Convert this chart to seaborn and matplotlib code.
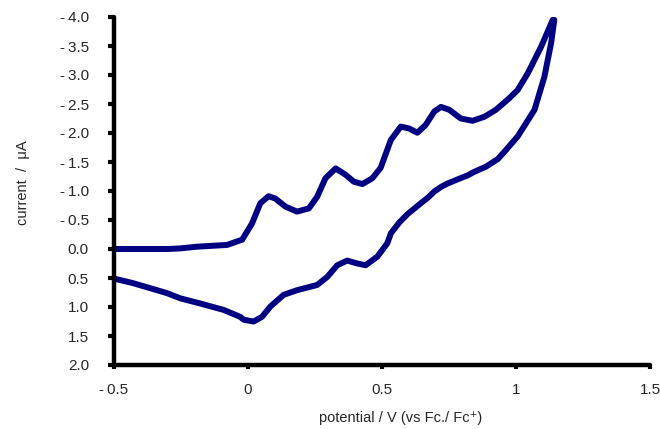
import matplotlib
matplotlib.use("Agg")
import matplotlib.pyplot as plt
import numpy as np
import pandas as pd
import seaborn as sns

# forward scan (upper branch), potential in V, current in uA
fwd_v = [-0.50, -0.30, -0.253, -0.19, -0.078, -0.066, -0.022, 0.015, 0.046, 0.077,
         0.102, 0.14, 0.183, 0.227, 0.258, 0.289, 0.327, 0.364, 0.395, 0.427,
         0.464, 0.495, 0.533, 0.57, 0.60, 0.632, 0.663, 0.695, 0.72, 0.751,
         0.794, 0.838, 0.882, 0.925, 0.975, 1.006, 1.044, 1.094, 1.137]
fwd_i = [0.00, 0.00, -0.01, -0.04, -0.07, -0.09, -0.16, -0.44, -0.79, -0.91,
         -0.87, -0.73, -0.645, -0.70, -0.90, -1.22, -1.39, -1.28, -1.16, -1.12,
         -1.22, -1.40, -1.88, -2.11, -2.08, -2.005, -2.14, -2.37, -2.45, -2.40,
         -2.25, -2.21, -2.28, -2.40, -2.60, -2.74, -3.03, -3.49, -3.95]

# reverse scan (lower branch)
rev_v = [1.143, 1.131, 1.106, 1.069, 1.035, 1.006, 0.965, 0.932, 0.888, 0.844,
         0.82, 0.782, 0.745, 0.72, 0.695, 0.67, 0.645, 0.595, 0.565, 0.533,
         0.52, 0.483, 0.439, 0.408, 0.37, 0.333, 0.296, 0.258, 0.183, 0.133,
         0.084, 0.052, 0.021, -0.016, -0.029, -0.091, -0.178, -0.253, -0.303,
         -0.428, -0.50]
rev_i = [-3.95, -3.55, -2.97, -2.40, -2.15, -1.94, -1.72, -1.55, -1.42, -1.33,
         -1.27, -1.20, -1.13, -1.07, -0.99, -0.88, -0.79, -0.60, -0.46, -0.27,
         -0.10, 0.13, 0.28, 0.25, 0.20, 0.28, 0.48, 0.62, 0.71, 0.79,
         0.99, 1.17, 1.25, 1.22, 1.17, 1.05, 0.94, 0.85, 0.76,
         0.59, 0.51]

x_ticks = [-0.5, 0, 0.5, 1, 1.5]
x_labels = ["-\u20090.5", "0", "0.5", "1", "1.5"]
y_ticks = np.arange(-4.0, 2.01, 0.5)

df = pd.DataFrame({"potential": fwd_v + rev_v, "current": fwd_i + rev_i})

sns.set_style("white")
plt.rcParams["font.family"] = ["Liberation Sans", "DejaVu Sans"]

fig = plt.figure(figsize=(6.6, 4.29), dpi=100)
ax = fig.add_axes([114 / 660, 1 - 365 / 429, 536 / 660, 348 / 429])

sns.lineplot(data=df, x="potential", y="current", sort=False, estimator=None,
             color="#000080", linewidth=4.3, ax=ax)
for ln in ax.get_lines():
    ln.set_solid_capstyle("round")
    ln.set_solid_joinstyle("round")

ax.set_xlim(-0.5, 1.5)
ax.set_ylim(2.0, -4.0)
ax.set_xticks(x_ticks)
ax.set_xticklabels(x_labels)
ax.set_yticks(y_ticks)
ax.set_yticklabels([("-\u2009" if v < -1e-9 else "") + f"{abs(v):.1f}" for v in y_ticks])

for side in ["top", "right"]:
    ax.spines[side].set_visible(False)
for side in ["left", "bottom"]:
    ax.spines[side].set_linewidth(3.2)
    ax.spines[side].set_color("black")
    ax.spines[side].set_capstyle("round")

ax.tick_params(axis="y", direction="out", length=4, width=3, color="black",
               pad=14, labelsize=11, left=True)
ax.tick_params(axis="x", direction="out", length=3, width=3, color="black",
               pad=10, labelsize=11, bottom=True)

ax.set_xlabel("potential / V (vs Fc./ Fc\u207a)", fontsize=10.5)
ax.set_ylabel("current  /  \u03bcA", fontsize=10.5)
ax.xaxis.set_label_coords(0.534, -0.132)
ax.yaxis.set_label_coords(-0.156, 0.523)

fig.savefig("out.png", dpi=100)
